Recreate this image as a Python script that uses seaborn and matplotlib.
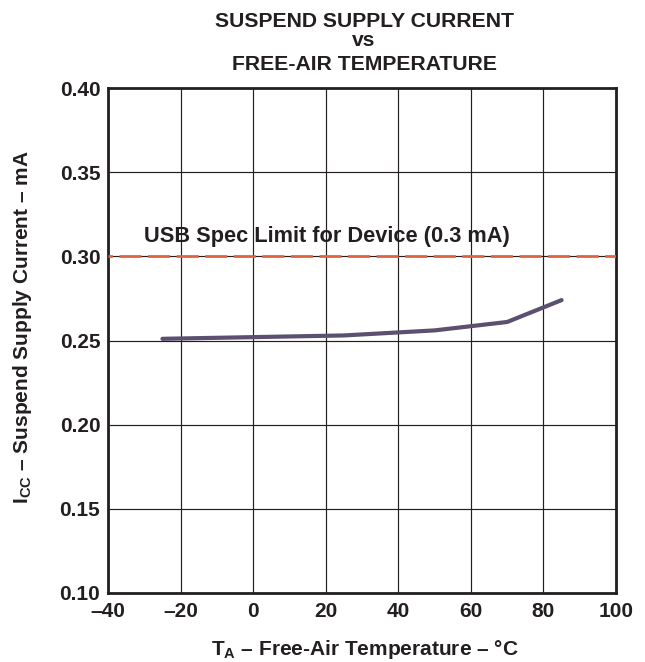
import matplotlib
matplotlib.use("Agg")
import matplotlib.pyplot as plt
import seaborn as sns
import pandas as pd

# Data
temperature_c = [-25, 0, 25, 50, 70, 85]
icc_ma = [0.251, 0.252, 0.253, 0.256, 0.261, 0.274]
spec_limit_ma = 0.3
spec_label = "USB Spec Limit for Device (0.3 mA)"
x_ticks = [-40, -20, 0, 20, 40, 60, 80, 100]
y_ticks = [0.10, 0.15, 0.20, 0.25, 0.30, 0.35, 0.40]
title_lines = ["SUSPEND SUPPLY CURRENT", "vs", "FREE-AIR TEMPERATURE"]

sns.set_theme(style="white")
plt.rcParams['font.family'] = ['Liberation Sans', 'DejaVu Sans']
plt.rcParams['mathtext.fontset'] = 'custom'
plt.rcParams['mathtext.rm'] = 'Liberation Sans'
plt.rcParams['mathtext.bf'] = 'Liberation Sans:bold'

INK = "#231f20"
FS = 15

df = pd.DataFrame({"T": temperature_c, "I": icc_ma})

W, H = 645, 662
fig = plt.figure(figsize=(W / 100, H / 100), dpi=100)
ax = fig.add_axes([108 / W, 1 - 593 / H, (616 - 108) / W, (593 - 88) / H])

ax.set_xlim(x_ticks[0], x_ticks[-1])
ax.set_ylim(y_ticks[0], y_ticks[-1])
ax.set_xticks(x_ticks)
ax.set_yticks(y_ticks)
ax.set_xticklabels([f"{t}".replace("-", "\u2013") for t in x_ticks],
                   fontsize=FS, fontweight="bold")
ax.set_yticklabels([f"{v:.2f}" for v in y_ticks], fontsize=FS, fontweight="bold")
ax.tick_params(axis="x", length=0, pad=6.5, colors=INK)
ax.tick_params(axis="y", length=0, pad=5.5, colors=INK)
ax.grid(True, color=INK, linewidth=0.85)
ax.set_axisbelow(True)
for s in ax.spines.values():
    s.set_color(INK)
    s.set_linewidth(2.0)

ax.axhline(spec_limit_ma, color="#e0623c", linewidth=1.95,
           linestyle=(6.5, (8.15, 2.4)), zorder=3)
ax.text(-30, 0.3086, spec_label, fontsize=15.7, fontweight="bold",
        color=INK, ha="left", va="baseline")

sns.lineplot(data=df, x="T", y="I", ax=ax, color="#5b5070", linewidth=3.0,
             zorder=4)
ax.set_xlabel("")
ax.set_ylabel("")

fig.text(365 / W, 1 - 655 / H, r"T$_\mathbf{A}$ – Free-Air Temperature – °C",
         fontsize=FS, fontweight="bold", color=INK, ha="center", va="baseline")
fig.text(28 / W, 1 - 327.5 / H, r"I$_\mathbf{CC}$ – Suspend Supply Current – mA",
         fontsize=FS, fontweight="bold", color=INK, ha="center", va="baseline",
         rotation=90, rotation_mode="anchor")

baselines = [27, 46.5, 70]
for line, b in zip(title_lines, baselines):
    fig.text(364 / W, 1 - b / H, line, ha="center", va="baseline",
             fontsize=15.2, fontweight="bold", color=INK)

fig.savefig("out.png", dpi=100)
